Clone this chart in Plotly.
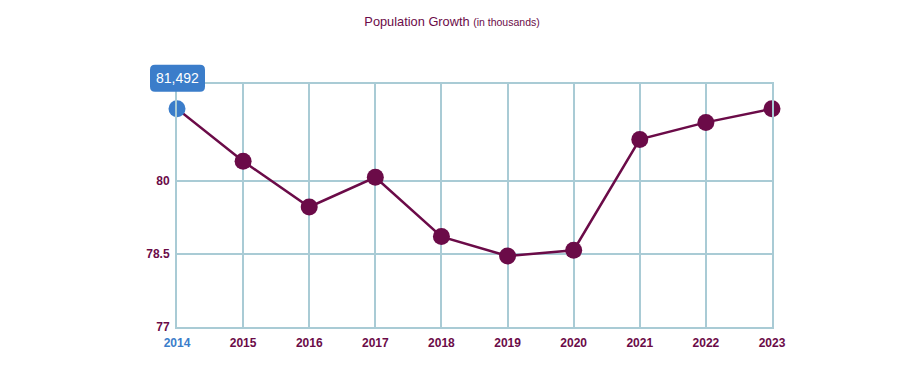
import plotly.graph_objects as go

years = [2014, 2015, 2016, 2017, 2018, 2019, 2020, 2021, 2022, 2023]
population = [81.492, 80.41, 79.47, 80.08, 78.86, 78.46, 78.58, 80.86, 81.21, 81.49]
y_ticks = [77, 78.5, 80]
y_tick_labels = ["77", "78.5", "80"]
y_range = [77, 82]
highlight_index = 0
highlight_label = "81,492"

MAROON = "#6b0b48"
BLUE = "#3b7dca"
GRID = "#a9cbd5"
FONT = "Liberation Sans, Arial, sans-serif"

marker_colors = [BLUE if i == highlight_index else MAROON for i in range(len(years))]
x_ticktext = [
    f"<span style='color:{BLUE}'>{y}</span>" if i == highlight_index else str(y)
    for i, y in enumerate(years)
]

fig = go.Figure()
fig.add_trace(go.Scatter(
    x=years, y=population, mode="lines+markers",
    line=dict(color=MAROON, width=2.5),
    marker=dict(size=17, color=marker_colors, line=dict(width=0)),
    hoverinfo="skip", cliponaxis=False,
))

hx, hy = years[highlight_index], population[highlight_index]
# position of the highlighted point as plot fraction (so the label is not clipped)
px = (hx - years[0]) / (years[-1] - years[0])
py = (hy - y_range[0]) / (y_range[1] - y_range[0])
r = 5
x0, x1, y0, y1 = -27, 28, 17, 44
path = (f"M {x0+r},{y0} L {x1-r},{y0} Q {x1},{y0} {x1},{y0+r} L {x1},{y1-r} "
        f"Q {x1},{y1} {x1-r},{y1} L {x0+r},{y1} Q {x0},{y1} {x0},{y1-r} "
        f"L {x0},{y0+r} Q {x0},{y0} {x0+r},{y0} Z")
fig.add_shape(type="path", xref="paper", yref="paper", xsizemode="pixel", ysizemode="pixel",
              xanchor=px, yanchor=py, path=path, fillcolor=BLUE, line=dict(width=0),
              layer="above")
fig.add_annotation(x=hx, y=hy, xref="x", yref="y", text=highlight_label,
                   showarrow=False, yshift=31, xshift=0.5,
                   font=dict(family=FONT, size=14, color="white"))

fig.update_layout(
    width=904, height=382,
    margin=dict(l=169, r=140, t=76, b=63),
    paper_bgcolor="white", plot_bgcolor="white",
    showlegend=False,
    title=dict(
        text="Population Growth <span style='font-size:10.5px'>(in thousands)</span>",
        x=0.4912, xref="container", xanchor="center", y=1 - 14 / 382, yref="container", yanchor="middle",
        font=dict(family=FONT, size=12.8, color=MAROON),
    ),
    xaxis=dict(
        range=[years[0], years[-1]], tickvals=years, ticktext=x_ticktext,
        showgrid=True, gridcolor=GRID, gridwidth=2,
        showline=True, linecolor=GRID, linewidth=2, mirror=True,
        zeroline=False, ticks="", ticklabelstandoff=4,
        tickfont=dict(family=FONT, size=12, color=MAROON, weight="bold"),
    ),
    yaxis=dict(
        range=y_range, tickvals=y_ticks, ticktext=y_tick_labels,
        showgrid=True, gridcolor=GRID, gridwidth=2,
        showline=True, linecolor=GRID, linewidth=2, mirror=True,
        zeroline=False, ticks="", ticklabelstandoff=3,
        tickfont=dict(family=FONT, size=12, color=MAROON, weight="bold"),
    ),
)

fig.write_html("out.html")
